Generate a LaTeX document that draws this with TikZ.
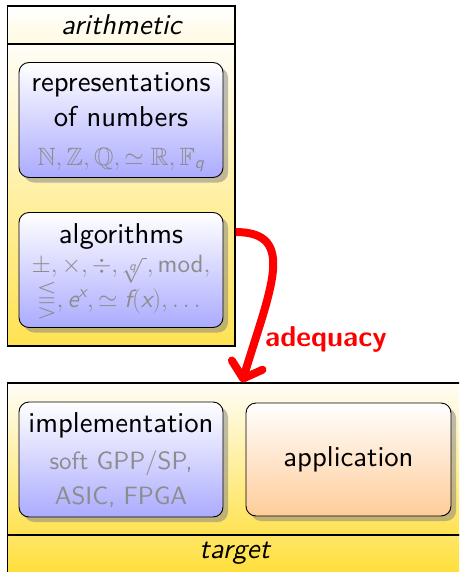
\documentclass[tikz,border=0pt]{standalone}
\usepackage{amsmath,amssymb}
\usepackage{fontspec}
\setsansfont{lmsans10-regular.otf}[
  ItalicFont=lmsans10-oblique.otf,
  BoldFont=lmsans10-bold.otf,
  BoldItalicFont=lmsans10-boldoblique.otf]
\usetikzlibrary{shadows,arrows.meta}
\definecolor{mustard}{RGB}{255,221,51}
\definecolor{textgray}{RGB}{140,140,140}
\newcommand\si[1]{\text{\itshape #1}}

\begin{document}
\begin{tikzpicture}[x=1pt,y=1pt,
  bigfont/.style={font=\sffamily\fontsize{28.7}{34}\selectfont},
  smallfont/.style={font=\sffamily\fontsize{25}{30}\selectfont, text=textgray},
  frame/.style={draw=black, line width=1.3pt, inner sep=0pt},
  card/.style={draw=black, line width=0.9pt, rounded corners=10pt, inner sep=0pt,
    minimum width=204pt, minimum height=115pt,
    drop shadow={shadow xshift=5pt, shadow yshift=-5pt}},
  bluecard/.style={card, top color=white, bottom color=blue!33!white},
  peachcard/.style={card, top color=white, bottom color=orange!40!white},
  titleband/.style={frame, top color=white, bottom color=mustard!15!white},
  bodyband/.style={frame, top color=mustard!4!white, bottom color=mustard!85!white},
  footband/.style={frame, top color=mustard!75!white, bottom color=mustard},
  adequacyarrow/.style={draw=red, line width=8pt,
    -{Straight Barb[round, length=14pt, width=32pt]}}
]
\useasboundingbox (0,0) rectangle (459,-572);
\clip (0,0) rectangle (459,-572);

% arithmetic block
\node[titleband, minimum width=227.5pt, minimum height=38pt] (arithTitle) at (121.25,-25) {};
\node[bodyband, minimum width=227.5pt, minimum height=302pt] (arithBody) at (121.25,-195) {};
\node[bigfont] (arithLabel) at (arithTitle.center) {\itshape arithmetic};

\node[bluecard] (repr) at (121,-120) {};
\node[bigfont, anchor=base] (reprA) at (121,-92) {representations};
\node[bigfont, anchor=base] (reprB) at (121,-127) {of numbers};
\node[smallfont, anchor=base] (reprC) at (121,-165)
  {$\mathbb{N},\mathbb{Z},\mathbb{Q},\simeq\mathbb{R},\mathbb{F}_{\si{q}}$};

\node[bluecard] (algo) at (121,-270) {};
\node[bigfont, anchor=base] (algoA) at (121,-243) {algorithms};
\node[smallfont, anchor=base] (algoB) at (121,-272)
  {$\pm,\times,\div,\sqrt[\si{q}]{\,},\text{mod},$};
\node[smallfont, anchor=base] (algoC) at (121,-307)
  {$\lesseqqgtr,\si{e}^{\si{x}},\simeq\si{f}(\si{x}),\dots$};

% target block
\node[bodyband, minimum width=454.5pt, minimum height=152pt] (targetBody) at (234.75,-459) {};
\node[footband, minimum width=454.5pt, minimum height=45pt] (targetBand) at (234.75,-557.5) {};
\node[bigfont, anchor=base] (targetLabel) at (234.75,-558) {\itshape target};

\node[bluecard] (impl) at (121,-459.5) {};
\node[bigfont, anchor=base] (implA) at (121,-432) {implementation};
\node[smallfont, anchor=base] (implB) at (121,-469) {soft GPP/SP,};
\node[smallfont, anchor=base] (implC) at (121,-504) {ASIC, FPGA};

\node[peachcard, minimum width=205pt, minimum height=113pt] (app) at (348.5,-459.5) {};
\node[bigfont, anchor=base] (appA) at (348.5,-466) {application};

% adequacy connector
\coordinate (adqStart) at ([yshift=-20pt]algo.north -| arithBody.east);
\coordinate (adqEnd) at ([xshift=7.25pt]targetBody.north);
\draw[adequacyarrow] (adqStart) .. controls +(62,0) and +(28,93) .. (adqEnd);
\node[text=red, anchor=base west, inner sep=0pt,
  font=\bfseries\sffamily\fontsize{28.7}{34}\selectfont]
  (adqLabel) at (265,-346) {adequacy};
\end{tikzpicture}
\end{document}
